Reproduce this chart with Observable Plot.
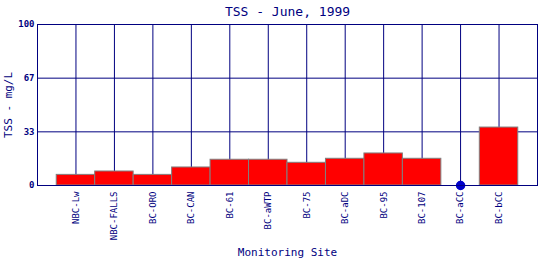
<!DOCTYPE html>
<html>
<head>
<meta charset="utf-8">
<script src="https://cdn.jsdelivr.net/npm/d3@7"></script>
<script src="https://cdn.jsdelivr.net/npm/@observablehq/plot@0.6"></script>
<style>
  html, body { margin: 0; padding: 0; background: #fff; }
</style>
</head>
<body>
<div id="chart"></div>
<script>
const sites = ["NBC-Lw","NBC-FALLS","BC-ORO","BC-CAN","BC-61","BC-aWTP","BC-75","BC-aDC","BC-95","BC-107","BC-aCC","BC-bCC"];
const tss = [6.6, 8.7, 6.6, 11.2, 16.0, 16.0, 14.1, 16.6, 19.9, 16.6, 0, 36.0];
const yTicks = [0, 100/3, 200/3, 100];
const yTickLabels = ["0", "33", "67", "100"];

const data = sites.map((s, i) => ({site: s, value: tss[i]}));
const navy = "#000080";
const font = "'DejaVu Sans Mono', monospace";

const chart = Plot.plot({
  width: 540,
  height: 260,
  marginLeft: 37,
  marginRight: 3,
  marginTop: 24,
  marginBottom: 75,
  style: {fontFamily: font, color: navy, background: "#fff"},
  x: {type: "band", domain: sites, paddingInner: 0, paddingOuter: 0.5, round: false, axis: null},
  y: {domain: [0, 100], axis: null},
  marks: [
    Plot.gridY(yTicks.slice(1, 3), {stroke: navy, strokeOpacity: 1, strokeWidth: 1}),
    Plot.gridX(sites, {stroke: navy, strokeOpacity: 1, strokeWidth: 1}),
    Plot.barY(data.filter(d => d.value > 0), {x: "site", y: "value", fill: "#ff0000", stroke: "#808080", strokeWidth: 1, inset: 0}),
    Plot.dot(data.filter(d => d.value === 0), {x: "site", y: "value", r: 4, fill: "#0000cc", stroke: "#0000cc"}),
    Plot.frame({stroke: navy, strokeWidth: 1}),
    Plot.axisY(yTicks, {tickSize: 0, tickPadding: 3, tickFormat: (d, i) => yTickLabels[i], fontSize: 9, fontWeight: "bold", fill: navy, label: null}),
    Plot.axisX(sites, {tickSize: 0, tickPadding: 6, tickRotate: -90, fontSize: 9, fill: navy, label: null}),
    Plot.text(["TSS - June, 1999"], {frameAnchor: "top", dy: -9, lineAnchor: "bottom", fontSize: 13, fill: navy}),
    Plot.text(["Monitoring Site"], {frameAnchor: "bottom", dy: 70, lineAnchor: "bottom", fontSize: 11, fill: navy}),
    Plot.text(["TSS - mg/L"], {frameAnchor: "left", dx: -29, rotate: -90, textAnchor: "middle", fontSize: 11, fill: navy})
  ]
});
document.getElementById("chart").appendChild(chart);
</script>
</body>
</html>
